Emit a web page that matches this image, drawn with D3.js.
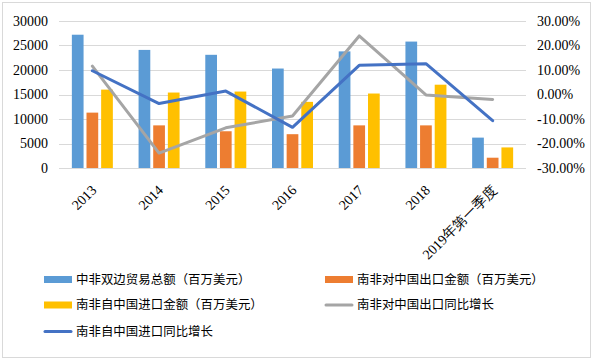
<!DOCTYPE html>
<html>
<head>
<meta charset="utf-8">
<script src="https://cdn.jsdelivr.net/npm/d3@7"></script>
<style>
  html, body { margin: 0; padding: 0; background: #fff; }
  svg { display: block; }
</style>
</head>
<body>
<svg id="chart" width="596" height="361"></svg>
<script>
// ---- Data ----
const categories = ["2013", "2014", "2015", "2016", "2017", "2018", "2019年第一季度"];
const totalTrade = [27200, 24100, 23100, 20300, 23800, 25800, 6200];
const exportsToChina = [11300, 8700, 7500, 6900, 8700, 8700, 2100];
const importsFromChina = [16000, 15400, 15600, 13500, 15200, 17000, 4200];
const exportGrowth = [11.6, -23.9, -13.6, -8.8, 23.9, -0.2, -2.0];   // %
const importGrowth = [9.7, -3.7, 1.4, -13.4, 11.9, 12.6, -10.7];     // %
const leftTicks = [0, 5000, 10000, 15000, 20000, 25000, 30000];
const rightTicks = [-30, -20, -10, 0, 10, 20, 30];
const barSeries = [
  { name: "中非双边贸易总额（百万美元）", values: totalTrade, color: "#5B9BD5" },
  { name: "南非对中国出口金额（百万美元）", values: exportsToChina, color: "#ED7D31" },
  { name: "南非自中国进口金额（百万美元）", values: importsFromChina, color: "#FFC000" }
];
const lineSeries = [
  { name: "南非对中国出口同比增长", values: exportGrowth, color: "#A5A5A5" },
  { name: "南非自中国进口同比增长", values: importGrowth, color: "#4472C4" }
];

// ---- Layout ----
const svg = d3.select("#chart");
const plot = { left: 59, right: 526, top: 21, bottom: 168 };
const numFont = "'Liberation Serif', 'Times New Roman', serif";
const cjkFont = "'Noto Sans CJK SC', 'Noto Sans', sans-serif";

// outer border
svg.append("rect")
  .attr("x", 2.5).attr("y", 2.5).attr("width", 588).attr("height", 355)
  .attr("fill", "#fff").attr("stroke", "#D9D9D9").attr("stroke-width", 1);

const x0 = d3.scaleBand().domain(categories).range([plot.left, plot.right]).padding(0);
const groupW = 41;
const x1 = d3.scaleBand().domain(d3.range(barSeries.length))
  .range([(x0.bandwidth() - groupW) / 2, (x0.bandwidth() + groupW) / 2])
  .paddingInner(0.2);
const yL = d3.scaleLinear().domain([0, 30000]).range([plot.bottom, plot.top]);
const yR = d3.scaleLinear().domain([-30, 30]).range([plot.bottom, plot.top]);

// gridlines
svg.append("g").selectAll("line").data(leftTicks).join("line")
  .attr("x1", plot.left).attr("x2", plot.right)
  .attr("y1", d => Math.round(yL(d)) + 0.5).attr("y2", d => Math.round(yL(d)) + 0.5)
  .attr("stroke", "#D9D9D9").attr("stroke-width", 1);

// left axis
const leftAxis = svg.append("g").attr("transform", `translate(${plot.left},0)`)
  .call(d3.axisLeft(yL).tickValues(leftTicks).tickSize(0).tickPadding(11).tickFormat(d3.format("d")));
leftAxis.select(".domain").remove();
leftAxis.selectAll("text").attr("font-family", numFont).attr("font-size", 14).attr("fill", "#000");

// right axis
const rightAxis = svg.append("g").attr("transform", `translate(${plot.right},0)`)
  .call(d3.axisRight(yR).tickValues(rightTicks).tickSize(0).tickPadding(11).tickFormat(d => d.toFixed(2) + "%"));
rightAxis.select(".domain").remove();
rightAxis.selectAll("text").attr("font-family", numFont).attr("font-size", 14).attr("fill", "#000");

// bars
const groups = svg.append("g").selectAll("g").data(categories).join("g")
  .attr("transform", d => `translate(${x0(d)},0)`);
barSeries.forEach((s, si) => {
  groups.append("rect")
    .attr("x", x1(si))
    .attr("width", x1.bandwidth())
    .attr("y", (d, i) => yL(s.values[i]))
    .attr("height", (d, i) => yL(0) - yL(s.values[i]))
    .attr("fill", s.color);
});

// x axis labels
const xAxis = svg.append("g").attr("transform", `translate(0,${plot.bottom})`)
  .call(d3.axisBottom(x0).tickSize(0).tickFormat(d => d));
xAxis.select(".domain").remove();
xAxis.selectAll("text")
  .attr("font-family", numFont).attr("font-size", 14).attr("fill", "#000")
  .attr("text-anchor", "end")
  .attr("dy", 0)
  .attr("transform", "translate(5,23) rotate(-45)")
  .attr("y", 0).attr("x", 0);

// lines
const lineGen = (vals) => d3.line()
  .x((d, i) => x0(categories[i]) + x0.bandwidth() / 2)
  .y(d => yR(d))(vals);
lineSeries.forEach(s => {
  svg.append("path").attr("d", lineGen(s.values))
    .attr("fill", "none").attr("stroke", s.color).attr("stroke-width", 3)
    .attr("stroke-linejoin", "round").attr("stroke-linecap", "round");
});

// legend
const legendItems = [
  { item: barSeries[0], type: "bar", col: 0, row: 0 },
  { item: barSeries[1], type: "bar", col: 1, row: 0 },
  { item: barSeries[2], type: "bar", col: 0, row: 1 },
  { item: lineSeries[0], type: "line", col: 1, row: 1 },
  { item: lineSeries[1], type: "line", col: 0, row: 2 }
];
const colX = [44, 325];
const rowY = [279.5, 305, 331.5];
const leg = svg.append("g");
legendItems.forEach(li => {
  const gx = colX[li.col], gy = rowY[li.row];
  if (li.type === "bar") {
    leg.append("rect").attr("x", gx).attr("y", gy - 3.5).attr("width", 28).attr("height", 7)
      .attr("fill", li.item.color);
  } else {
    leg.append("line").attr("x1", gx + 1).attr("x2", gx + 27).attr("y1", gy).attr("y2", gy)
      .attr("stroke", li.item.color).attr("stroke-width", 3).attr("stroke-linecap", "round");
  }
  leg.append("text").attr("x", gx + 32).attr("y", gy).attr("dy", "0.36em")
    .attr("font-family", cjkFont).attr("font-size", 12.4).attr("fill", "#000")
    .text(li.item.name)
    .each(function () {
      const n = li.item.name.length;
      d3.select(this).attr("textLength", n * 12.45).attr("lengthAdjust", "spacing");
    });
});
</script>
</body>
</html>
